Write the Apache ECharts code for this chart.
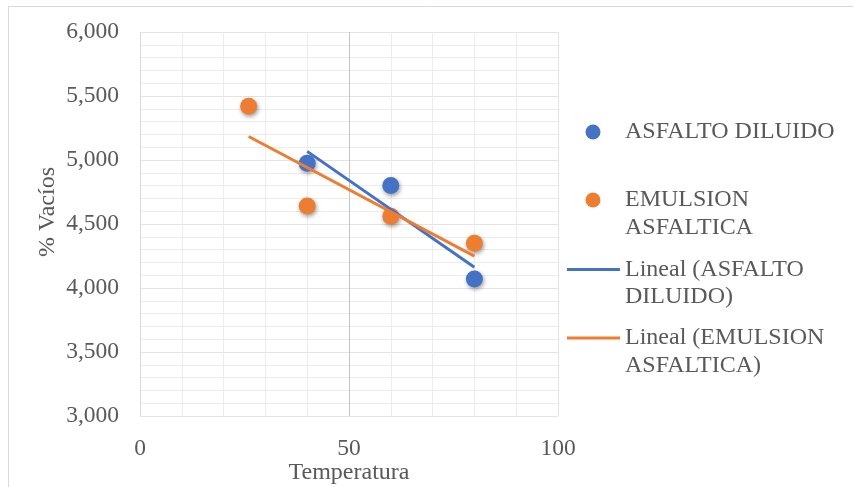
<!DOCTYPE html>
<html><head><meta charset="utf-8">
<script src="https://cdn.jsdelivr.net/npm/echarts@6/dist/echarts.min.js"></script>
<style>html,body{margin:0;padding:0;background:#fff}#c{width:853px;height:487px}</style>
</head><body><div id="c"></div>
<script>
const asfaltoX = [40, 60, 80];
const asfaltoY = [4975, 4800, 4070];
const emulsionX = [26, 40, 60, 80];
const emulsionY = [5420, 4640, 4560, 4350];
const seriesNames = ['ASFALTO DILUIDO', 'EMULSION ASFALTICA'];
const trendNames = ['Lineal (ASFALTO DILUIDO)', 'Lineal (EMULSION ASFALTICA)'];
const xTitle = 'Temperatura';
const yTitle = '% Vacíos';

function fit(xs, ys) {
  const n = xs.length;
  const mx = xs.reduce((a,b)=>a+b,0)/n, my = ys.reduce((a,b)=>a+b,0)/n;
  let sxy=0, sxx=0;
  for (let i=0;i<n;i++){ sxy+=(xs[i]-mx)*(ys[i]-my); sxx+=(xs[i]-mx)*(xs[i]-mx); }
  const b = sxy/sxx, a = my - b*mx;
  const x0 = Math.min(...xs), x1 = Math.max(...xs);
  return [[x0, a+b*x0],[x1, a+b*x1]];
}
const pairs = (xs, ys) => xs.map((x,i)=>[x, ys[i]]);
const BLUE = '#4472C4', ORANGE = '#ED7D31';
const FONT = '"Liberation Serif", "Times New Roman", serif';
const shadow = {shadowBlur: 4, shadowColor: 'rgba(0,0,0,0.4)', shadowOffsetX: 1, shadowOffsetY: 2};

const chart = echarts.init(document.getElementById('c'));
const legendText = {fontFamily: FONT, fontSize: 24, fill: '#595959'};
chart.setOption({
  animation: false,
  grid: {left: 140, top: 32, width: 418, height: 384, containLabel: false, outerBoundsMode: 'none'},
  xAxis: {
    type: 'value', min: 0, max: 100, interval: 50,
    name: xTitle, nameLocation: 'middle', nameGap: 45, nameMoveOverlap: false,
    nameTextStyle: {fontFamily: FONT, fontSize: 24, color: '#595959'},
    axisLine: {show: false}, axisTick: {show: false},
    axisLabel: {fontFamily: FONT, fontSize: 23.5, color: '#595959', margin: 21},
    splitLine: {show: true, lineStyle: {color: ['#d9d9d9', '#c4c4c4', '#e3e3e3'], width: 1}},
    minorTick: {show: false, splitNumber: 5},
    minorSplitLine: {show: true, lineStyle: {color: '#ececec', width: 1}}
  },
  yAxis: {
    type: 'value', min: 3000, max: 6000, interval: 500,
    name: yTitle, nameLocation: 'middle', nameGap: 80, nameRotate: 90, nameMoveOverlap: false,
    nameTextStyle: {fontFamily: FONT, fontSize: 24, color: '#595959', padding: [0, 0, 0, 24]},
    axisLine: {show: false}, axisTick: {show: false},
    axisLabel: {fontFamily: FONT, fontSize: 23.5, color: '#595959', margin: 21,
      formatter: v => v.toLocaleString('en-US')},
    splitLine: {show: true, lineStyle: {color: '#e3e3e3', width: 1}},
    minorTick: {show: false, splitNumber: 5},
    minorSplitLine: {show: true, lineStyle: {color: '#ececec', width: 1}}
  },
  series: [
    {name: seriesNames[0], type: 'scatter', data: pairs(asfaltoX, asfaltoY), symbolSize: 17, z: 2,
     itemStyle: Object.assign({color: BLUE, opacity: 1}, shadow)},
    {name: seriesNames[1], type: 'scatter', data: pairs(emulsionX, emulsionY), symbolSize: 17, z: 2,
     itemStyle: Object.assign({color: ORANGE, opacity: 1}, shadow)},
    {name: trendNames[0], type: 'line', data: fit(asfaltoX, asfaltoY), showSymbol: false, z: 3,
     lineStyle: {color: BLUE, width: 3}},
    {name: trendNames[1], type: 'line', data: fit(emulsionX, emulsionY), showSymbol: false, z: 4,
     lineStyle: {color: ORANGE, width: 3}}
  ],
  graphic: [
    {type: 'rect', shape: {x: 8.5, y: 6.5, width: 850, height: 490}, style: {fill: 'none', stroke: '#d9d9d9', lineWidth: 1}, silent: true},
    {type: 'circle', shape: {cx: 593, cy: 132, r: 7.5}, style: {fill: BLUE}},
    {type: 'text', x: 625, y: 132, style: Object.assign({text: 'ASFALTO DILUIDO', verticalAlign: 'middle'}, legendText)},
    {type: 'circle', shape: {cx: 593, cy: 200, r: 7.5}, style: {fill: ORANGE}},
    {type: 'text', x: 625, y: 200, style: Object.assign({text: 'EMULSION', verticalAlign: 'middle'}, legendText)},
    {type: 'text', x: 625, y: 228, style: Object.assign({text: 'ASFALTICA', verticalAlign: 'middle'}, legendText)},
    {type: 'line', shape: {x1: 567, y1: 269.5, x2: 620, y2: 269.5}, style: {stroke: BLUE, lineWidth: 3}},
    {type: 'text', x: 625, y: 270, style: Object.assign({text: 'Lineal (ASFALTO', verticalAlign: 'middle'}, legendText)},
    {type: 'text', x: 625, y: 297, style: Object.assign({text: 'DILUIDO)', verticalAlign: 'middle'}, legendText)},
    {type: 'line', shape: {x1: 567, y1: 338, x2: 620, y2: 338}, style: {stroke: ORANGE, lineWidth: 3}},
    {type: 'text', x: 625, y: 338, style: Object.assign({text: 'Lineal (EMULSION', verticalAlign: 'middle'}, legendText)},
    {type: 'text', x: 625, y: 366, style: Object.assign({text: 'ASFALTICA)', verticalAlign: 'middle'}, legendText)}
  ]
});
</script></body></html>
